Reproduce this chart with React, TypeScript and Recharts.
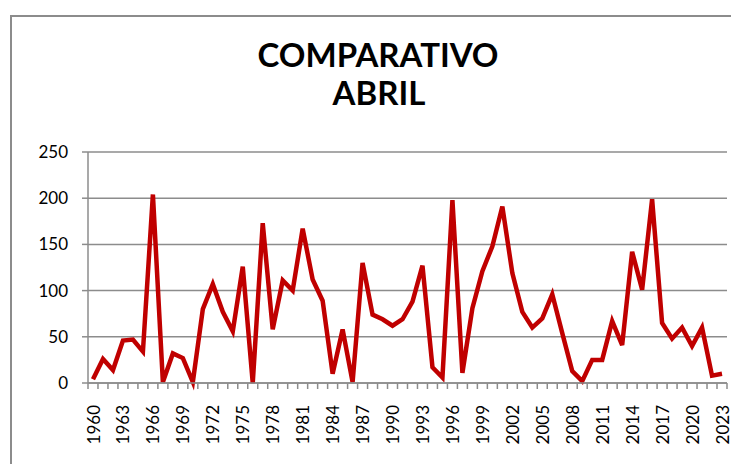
import { LineChart, Line, XAxis, YAxis, CartesianGrid } from "recharts";

const years = [
  1960, 1961, 1962, 1963, 1964, 1965, 1966, 1967, 1968, 1969,
  1970, 1971, 1972, 1973, 1974, 1975, 1976, 1977, 1978, 1979,
  1980, 1981, 1982, 1983, 1984, 1985, 1986, 1987, 1988, 1989,
  1990, 1991, 1992, 1993, 1994, 1995, 1996, 1997, 1998, 1999,
  2000, 2001, 2002, 2003, 2004, 2005, 2006, 2007, 2008, 2009,
  2010, 2011, 2012, 2013, 2014, 2015, 2016, 2017, 2018, 2019,
  2020, 2021, 2022, 2023,
];

const abril = [
  4, 26, 14, 46, 47, 34, 204, 1, 32, 27,
  1, 80, 107, 77, 56, 126, 0, 173, 58, 111,
  100, 167, 112, 89, 10, 58, 1, 130, 74, 69,
  62, 69, 88, 127, 17, 6, 198, 11, 81, 121,
  148, 191, 119, 77, 60, 70, 96, 54, 13, 2,
  25, 25, 67, 41, 142, 101, 199, 65, 48, 60,
  40, 60, 8, 10,
];

const yTicks = [0, 50, 100, 150, 200, 250];

const data = years.map((y, i) => ({ year: String(y), abril: abril[i] }));

const GRAY = "#8c8c8c";
const FONT = "Lato, 'Open Sans', sans-serif";

// tick marks sit between categories, labels every 3 years
function XTick(props: any) {
  const { x, y, index, payload } = props;
  const last = index === years.length - 1;
  return (
    <g>
      <line x1={x - 5} x2={x - 5} y1={y} y2={y + 6} stroke={GRAY} strokeWidth={1.5} />
      {last && <line x1={x + 5} x2={x + 5} y1={y} y2={y + 6} stroke={GRAY} strokeWidth={1.5} />}
      {index % 3 === 0 && (
        <text
          transform={`translate(${x},${y + 22}) rotate(-90)`}
          textAnchor="end"
          dominantBaseline="central"
          fill="#000"
          fontSize={17}
          fontFamily={FONT}
        >
          {payload.value}
        </text>
      )}
    </g>
  );
}

export default function App() {
  return (
    <div style={{ position: "absolute", left: 0, top: 0, width: 731, height: 464, background: "#fff", overflow: "hidden" }}>
      <svg width={731} height={464} style={{ position: "absolute", left: 0, top: 0 }}>
        <rect x={11} y={16} width={800} height={600} fill="none" stroke={GRAY} strokeWidth={2} />
        <text x={378} y={67} textAnchor="middle" fontFamily={FONT} fontWeight={700} fontSize={33}>
          COMPARATIVO
        </text>
        <text x={379} y={105} textAnchor="middle" fontFamily={FONT} fontWeight={700} fontSize={33}>
          ABRIL
        </text>
      </svg>
      <div style={{ position: "absolute", left: 0, top: 0 }}>
        <LineChart width={731} height={464} data={data} margin={{ top: 152, right: 4, left: 0, bottom: 0 }}>
          <CartesianGrid vertical={false} stroke={GRAY} strokeWidth={1.5} />
          <XAxis
            dataKey="year"
            interval={0}
            height={81}
            padding={{ left: 5, right: 5 }}
            axisLine={{ stroke: GRAY, strokeWidth: 1.5 }}
            tickLine={false}
            tickSize={0}
            tickMargin={0}
            tick={<XTick />}
          />
          <YAxis
            width={88}
            domain={[0, 250]}
            ticks={yTicks}
            interval={0}
            axisLine={{ stroke: GRAY, strokeWidth: 1.5 }}
            tickLine={{ stroke: GRAY, strokeWidth: 1.5 }}
            tickSize={6}
            tickMargin={14}
            tick={{ fill: "#000", fontSize: 17, fontFamily: FONT }}
          />
          <Line
            type="linear"
            dataKey="abril"
            stroke="#c00000"
            strokeWidth={4.5}
            dot={false}
            activeDot={false}
            isAnimationActive={false}
          />
        </LineChart>
      </div>
    </div>
  );
}
